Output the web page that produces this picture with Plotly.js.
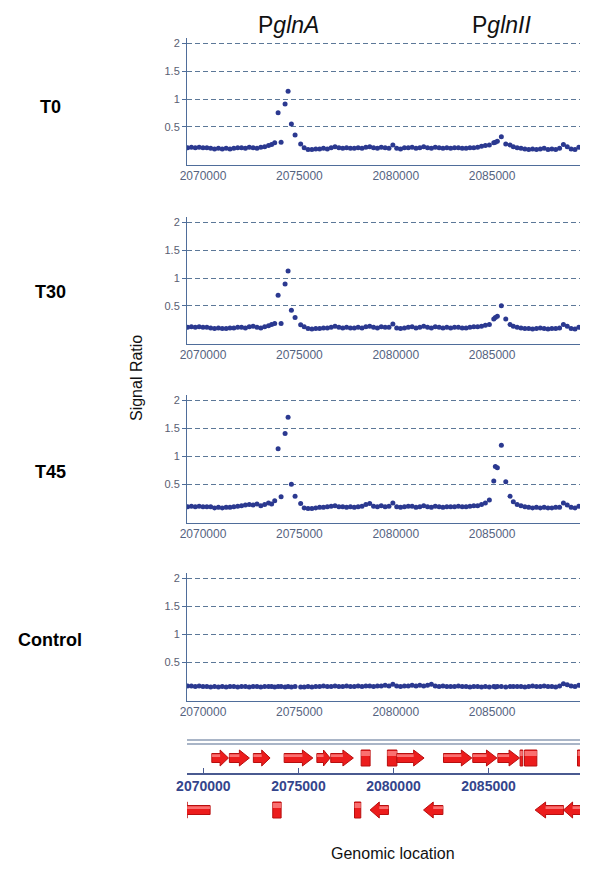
<!DOCTYPE html>
<html><head><meta charset="utf-8">
<script src="https://cdn.plot.ly/plotly-3.0.1.min.js"></script>
<style>html,body{margin:0;padding:0;background:#fff;}#chart{width:600px;height:878px;}</style>
</head><body><div id="chart"></div>
<script>
// ---------- DATA ----------
const positions = [
2069200,2069400,2069600,2069800,2070000,2070200,2070400,2070600,2070800,2071000,2071200,2071400,2071600,2071800,2072000,2072200,2072400,2072600,2072800,2073000,2073200,2073400,2073560,
2073720,2073897,2074052,2074259,2074415,2074586,2074777,2075067,
2075250,2075450,2075650,2075850,2076050,2076250,2076450,2076650,2076850,2077050,2077250,2077450,2077650,2077850,2078050,2078250,2078450,2078650,2078850,2079050,2079250,2079450,2079650,2079850,2080050,2080250,2080450,2080650,2080850,2081050,2081250,2081450,2081650,2081850,2082050,2082250,2082450,2082650,2082850,2083050,2083250,2083450,2083650,2083850,2084050,2084250,2084450,2084650,
2084858,2085086,2085168,2085272,2085480,2085708,2085930,2086101,
2086300,2086500,2086700,2086900,2087100,2087300,2087500,2087700,2087900,2088100,2088300,2088500,2088700,2088900,2089100,2089300,2089500];

const ratioT0 = [
0.12,0.13,0.12,0.13,0.12,0.12,0.11,0.10,0.11,0.10,0.11,0.10,0.11,0.12,0.12,0.11,0.13,0.12,0.11,0.13,0.14,0.16,0.18,
0.21,0.75,0.22,0.91,1.14,0.55,0.35,0.19,
0.12,0.09,0.09,0.10,0.10,0.11,0.10,0.12,0.14,0.12,0.11,0.12,0.11,0.11,0.12,0.11,0.13,0.14,0.12,0.11,0.13,0.12,0.11,0.17,0.11,0.10,0.12,0.12,0.13,0.11,0.12,0.14,0.12,0.11,0.13,0.12,0.11,0.12,0.11,0.12,0.12,0.11,0.11,0.12,0.12,0.13,0.15,0.16,
0.17,0.21,0.22,0.24,0.32,0.19,0.17,0.14,
0.12,0.11,0.10,0.09,0.10,0.09,0.10,0.11,0.09,0.10,0.09,0.11,0.18,0.14,0.10,0.09,0.13];

const ratioT30 = [
0.11,0.12,0.11,0.12,0.11,0.11,0.10,0.09,0.10,0.09,0.09,0.10,0.10,0.11,0.11,0.10,0.12,0.13,0.11,0.10,0.12,0.14,0.16,
0.18,0.69,0.18,0.89,1.125,0.42,0.29,0.155,
0.12,0.09,0.08,0.09,0.09,0.10,0.10,0.11,0.13,0.11,0.10,0.11,0.10,0.10,0.11,0.10,0.12,0.13,0.11,0.10,0.12,0.11,0.11,0.17,0.10,0.09,0.10,0.11,0.12,0.10,0.11,0.13,0.11,0.10,0.12,0.11,0.10,0.11,0.10,0.11,0.11,0.10,0.10,0.11,0.12,0.12,0.13,0.15,
0.16,0.26,0.29,0.31,0.50,0.26,0.16,0.13,
0.11,0.10,0.09,0.09,0.08,0.09,0.10,0.09,0.08,0.09,0.09,0.10,0.16,0.13,0.09,0.08,0.11];

const ratioT45 = [
0.10,0.11,0.10,0.11,0.10,0.10,0.10,0.08,0.09,0.08,0.09,0.09,0.10,0.11,0.12,0.13,0.14,0.13,0.15,0.12,0.14,0.17,0.15,
0.21,1.14,0.28,1.41,1.70,0.505,0.29,0.16,
0.08,0.07,0.07,0.08,0.09,0.09,0.10,0.11,0.12,0.10,0.10,0.09,0.10,0.09,0.10,0.11,0.14,0.16,0.11,0.10,0.12,0.10,0.11,0.17,0.10,0.09,0.10,0.11,0.11,0.09,0.10,0.12,0.10,0.09,0.11,0.10,0.09,0.10,0.10,0.10,0.11,0.10,0.10,0.11,0.12,0.12,0.14,0.17,
0.22,0.56,0.82,0.80,1.20,0.55,0.29,0.19,
0.14,0.12,0.10,0.09,0.08,0.09,0.08,0.09,0.08,0.08,0.09,0.09,0.17,0.13,0.09,0.08,0.11];

const ratioControl = [
0.08,0.08,0.07,0.08,0.07,0.07,0.06,0.07,0.06,0.07,0.06,0.07,0.07,0.06,0.07,0.07,0.06,0.07,0.07,0.06,0.07,0.07,0.07,
0.06,0.07,0.07,0.06,0.07,0.06,0.07,0.06,
0.06,0.07,0.06,0.07,0.07,0.08,0.07,0.07,0.08,0.07,0.07,0.08,0.07,0.07,0.08,0.07,0.08,0.08,0.07,0.08,0.08,0.09,0.08,0.11,0.08,0.07,0.08,0.08,0.09,0.08,0.09,0.08,0.09,0.11,0.08,0.07,0.08,0.07,0.07,0.07,0.08,0.07,0.07,0.06,0.07,0.07,0.06,0.07,
0.06,0.07,0.06,0.07,0.07,0.06,0.07,0.07,
0.07,0.07,0.06,0.07,0.08,0.07,0.07,0.08,0.07,0.07,0.06,0.08,0.12,0.10,0.08,0.07,0.09];

const panelNames = ['T0','T30','T45','Control'];
const xTickVals = [2070000,2075000,2080000,2085000,2090000];
const yTickVals = [0.5,1,1.5,2];
const yTickText = ['0.5','1','1.5','2'];
const promoterNames = ['P<i>glnA</i>','P<i>glnII</i>'];
const promoterPos = [2074415, 2085480];
const axisTitleY = 'Signal Ratio';
const axisTitleX = 'Genomic location';

const geneStart  = [2070445,2071370,2072630,2074250,2075970,2076700,2078300,2079680,2080180,2082630,2084170,2085490,2086660,2086890,2089680, 2068600,2073650,2077950,2078770,2081580,2087450,2088940];
const geneEnd    = [2071320,2072420,2073510,2075760,2076670,2077890,2078770,2080180,2081610,2084120,2085440,2086630,2086800,2087540,2090000, 2070355,2074090,2078280,2079735,2082600,2088940,2089900];
const geneStrand = ['+','+','+','+','+','+','+','+','+','+','+','+','+','+','+', '-','-','-','-','-','-','-'];
const geneKind   = ['arrow','arrow','arrow','arrow','arrow','arrow','box','box','arrow','arrow','arrow','arrow','box','box','box', 'arrow','box','box','arrow','arrow','arrow','arrow'];

// ---------- LAYOUT ----------
const W = 600, H = 878;
const px = v => v / W;
const py = v => 1 - v / H;
const FONT = 'Liberation Sans, Arial, sans-serif';
const series = [ratioT0, ratioT30, ratioT45, ratioControl];
const panelPx = [[38,165],[217,344],[395,523],[573,701]];
const labelPx = [107,292,472,640];
const xDomain = [px(187), px(580)];
const xRange = [2069170, 2089560];
const axisCol = '#4F6D9A';
const gridCol = '#5C7898';
const dotCol = '#2B3990';

const data = [];
const layout = {
  width: W, height: H,
  margin: {l:0, r:0, t:0, b:0},
  paper_bgcolor: '#fff', plot_bgcolor: 'rgba(0,0,0,0)',
  showlegend: false,
  font: {family: FONT},
  shapes: [], annotations: []
};

series.forEach((vals, i) => {
  const n = i + 1;
  const xa = n === 1 ? 'x' : 'x' + n;
  const ya = n === 1 ? 'y' : 'y' + n;
  data.push({
    type: 'scatter', mode: 'markers', x: positions, y: vals,
    xaxis: xa, yaxis: ya,
    marker: {size: 5, color: dotCol},
    hoverinfo: 'skip', name: panelNames[i]
  });
  layout[n === 1 ? 'xaxis' : 'xaxis' + n] = {
    domain: xDomain, range: xRange, anchor: ya,
    showline: true, linecolor: axisCol, linewidth: 1,
    showgrid: false, zeroline: false,
    tickvals: xTickVals, tickformat: 'd', ticks: '',
    tickfont: {size: 12, color: '#55637F', family: FONT},
    fixedrange: true
  };
  layout[n === 1 ? 'yaxis' : 'yaxis' + n] = {
    domain: [py(panelPx[i][1]), py(panelPx[i][0])],
    range: [-0.19, 2.1], anchor: xa,
    showline: true, linecolor: axisCol, linewidth: 1,
    showgrid: true, gridcolor: gridCol, gridwidth: 1, griddash: '5px,3px',
    zeroline: false,
    tickvals: yTickVals, ticktext: yTickText,
    ticks: 'outside', ticklen: 4, tickcolor: axisCol,
    tickfont: {size: 11, color: '#5A5E72', family: FONT},
    fixedrange: true
  };
  layout.annotations.push({
    xref: 'paper', yref: 'paper', x: px(50), y: py(labelPx[i]),
    text: '<b>' + panelNames[i] + '</b>', showarrow: false,
    xanchor: 'center', yanchor: 'middle',
    font: {size: 18, color: '#000', family: FONT}
  });
});

// promoter labels above top panel
promoterNames.forEach((t, i) => {
  layout.annotations.push({
    xref: 'x', yref: 'paper', x: promoterPos[i], y: py(25),
    text: t, showarrow: false, xanchor: 'center', yanchor: 'middle',
    font: {size: 23, color: '#111', family: FONT}
  });
});

// axis-like titles
layout.annotations.push({
  xref: 'paper', yref: 'paper', x: px(136), y: py(378), text: axisTitleY,
  textangle: -90, showarrow: false, xanchor: 'center', yanchor: 'middle',
  font: {size: 16, color: '#111', family: FONT}
});
layout.annotations.push({
  xref: 'paper', yref: 'paper', x: px(393), y: py(853), text: axisTitleX,
  showarrow: false, xanchor: 'center', yanchor: 'middle',
  font: {size: 16, color: '#111', family: FONT}
});

// ---------- GENE TRACK ----------
const trackTop = 735, trackBottom = 825;
layout.xaxis5 = {
  domain: xDomain, range: [2069140, 2089810], anchor: 'free', position: py(773),
  showline: true, linecolor: '#4A5A90', linewidth: 1.5,
  showgrid: false, zeroline: false,
  tickvals: xTickVals, tickformat: 'd', ticks: 'inside', ticklen: 5, tickcolor: '#4A5A90',
  tickfont: {size: 14, color: '#34458C', family: FONT, weight: 'bold'},
  fixedrange: true
};
layout.yaxis5 = {
  domain: [py(trackBottom), py(trackTop)], range: [0, trackBottom - trackTop],
  anchor: 'x5', visible: false, fixedrange: true
};
data.push({type:'scatter', mode:'markers', x:[], y:[], xaxis:'x5', yaxis:'y5', hoverinfo:'skip'});

// double separator line
[740, 744].forEach(yy => layout.shapes.push({
  type: 'line', xref: 'paper', yref: 'paper', x0: px(187), x1: px(580), y0: py(yy), y1: py(yy),
  line: {color: '#8C9CB4', width: 1.6}
}));

const rowY = {'+': trackBottom - 758, '-': trackBottom - 810};
const bodyHalf = 4.5, headHalf = 8, boxHalf = 8;
function genePath(s, e, strand, kind, yc) {
  let pts;
  if (kind === 'box') {
    pts = [[s, yc - boxHalf], [e, yc - boxHalf], [e, yc + boxHalf], [s, yc + boxHalf]];
  } else {
    const h = Math.min(550, (e - s) * 0.5);
    if (strand === '+') {
      pts = [[s, yc - bodyHalf], [e - h, yc - bodyHalf], [e - h, yc - headHalf], [e, yc],
             [e - h, yc + headHalf], [e - h, yc + bodyHalf], [s, yc + bodyHalf]];
    } else {
      pts = [[e, yc - bodyHalf], [s + h, yc - bodyHalf], [s + h, yc - headHalf], [s, yc],
             [s + h, yc + headHalf], [s + h, yc + bodyHalf], [e, yc + bodyHalf]];
    }
  }
  return 'M' + pts.map(p => p[0] + ',' + p[1]).join('L') + 'Z';
}
function highlightPath(s, e, strand, kind, yc) {
  let a = s, b = e, top, bot;
  if (kind === 'box') { top = yc + boxHalf - 1; bot = yc + 2; }
  else {
    const h = Math.min(550, (e - s) * 0.5);
    if (strand === '+') b = e - h; else a = s + h;
    top = yc + bodyHalf - 0.8; bot = yc + 1;
  }
  return 'M' + a + ',' + bot + 'L' + b + ',' + bot + 'L' + b + ',' + top + 'L' + a + ',' + top + 'Z';
}
geneStart.forEach((s, i) => {
  const e = geneEnd[i], st = geneStrand[i], k = geneKind[i], yc = rowY[st];
  layout.shapes.push({
    type: 'path', xref: 'x5', yref: 'y5', path: genePath(s, e, st, k, yc),
    fillcolor: '#EC1C1C', line: {color: '#B80E0E', width: 1}, layer: 'above'
  });
  layout.shapes.push({
    type: 'path', xref: 'x5', yref: 'y5', path: highlightPath(s, e, st, k, yc),
    fillcolor: 'rgba(255,140,140,0.75)', line: {width: 0}, layer: 'above'
  });
});

Plotly.newPlot('chart', data, layout, {displayModeBar: false, staticPlot: true});
</script>
</body></html>
